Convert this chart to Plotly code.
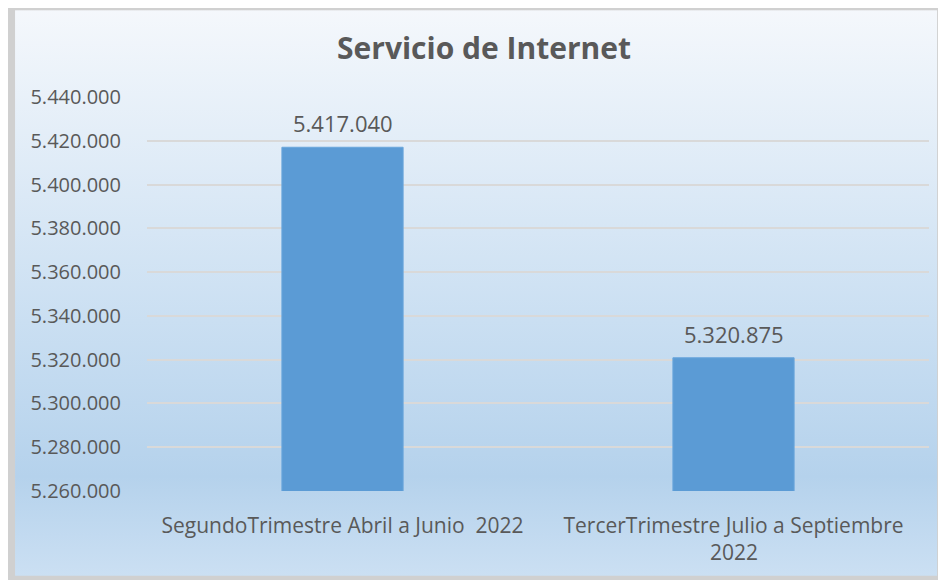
import plotly.graph_objects as go
import urllib.parse

# data
categories = ["SegundoTrimestre Abril a Junio  2022", "TercerTrimestre Julio a Septiembre 2022"]
tick_line1 = ["SegundoTrimestre Abril a Junio  2022", "TercerTrimestre Julio a Septiembre"]
tick_line2 = ["", "2022"]
values = [5417040, 5320875]
y_ticks = [5260000, 5280000, 5300000, 5320000, 5340000, 5360000, 5380000, 5400000, 5420000, 5440000]

font = "'Open Sans', sans-serif"
text_color = "#595959"

def fmt(v):
    return f"{v:,}".replace(",", ".")

# gradient background like the Excel chart area
svg = (
    "<svg xmlns='http://www.w3.org/2000/svg' width='100' height='100' preserveAspectRatio='none'>"
    "<defs><linearGradient id='g' x1='0' y1='0' x2='0' y2='1'>"
    "<stop offset='0' stop-color='#F5F8FC'/>"
    "<stop offset='0.55' stop-color='#CADFF2'/>"
    "<stop offset='0.82' stop-color='#B5D2EC'/>"
    "<stop offset='1' stop-color='#CCE0F3'/>"
    "</linearGradient></defs>"
    "<rect width='100' height='100' fill='url(#g)' stroke='#D0D0D0' stroke-width='1.5'/></svg>"
)
bg_src = "data:image/svg+xml;charset=utf-8," + urllib.parse.quote(svg)

fig = go.Figure()
fig.add_trace(go.Bar(
    x=categories,
    y=values,
    width=0.31,
    marker=dict(color="#5B9BD5", line=dict(color="#6AA6DC", width=1)),
    hoverinfo="skip",
))

# value labels
for c, v in zip(categories, values):
    fig.add_annotation(x=c, y=v, text=fmt(v), showarrow=False, yanchor="bottom",
                       yshift=7, font=dict(family=font, size=22, color=text_color))

# second line of the wrapped category label (Excel spaces it wider than <br>)
for c, t in zip(categories, tick_line2):
    if t:
        fig.add_annotation(x=c, y=0, yref="paper", text=t, showarrow=False, yanchor="middle",
                           yshift=-61, font=dict(family=font, size=21, color=text_color))

fig.update_layout(
    width=938, height=572,
    margin=dict(l=139, r=17, t=89, b=89),
    paper_bgcolor="white",
    plot_bgcolor="rgba(0,0,0,0)",
    showlegend=False,
    title=dict(text="<b>Servicio de Internet</b>", x=0.5075, xanchor="center", y=0.93, yanchor="middle",
               font=dict(family=font, size=30, color=text_color)),
    images=[dict(source=bg_src, xref="paper", yref="paper", x=-0.1777, y=1.231,
                 sizex=1.197, sizey=1.457, sizing="stretch", xanchor="left", yanchor="top",
                 layer="below")],
    font=dict(family=font, color=text_color),
)

fig.update_xaxes(
    tickmode="array", tickvals=categories, ticktext=tick_line1,
    showgrid=False, showline=False, ticks="", ticklabelstandoff=20,
    tickfont=dict(family=font, size=21, color=text_color),
)
fig.update_yaxes(
    range=[5260000, 5440000], tickvals=y_ticks, ticktext=[fmt(t) for t in y_ticks],
    showgrid=True, gridcolor="#D9D9D9", gridwidth=2, zeroline=False, showline=False,
    ticks="", ticklabelstandoff=25,
    tickfont=dict(family=font, size=20, color=text_color),
)

fig.write_html("out.html")
